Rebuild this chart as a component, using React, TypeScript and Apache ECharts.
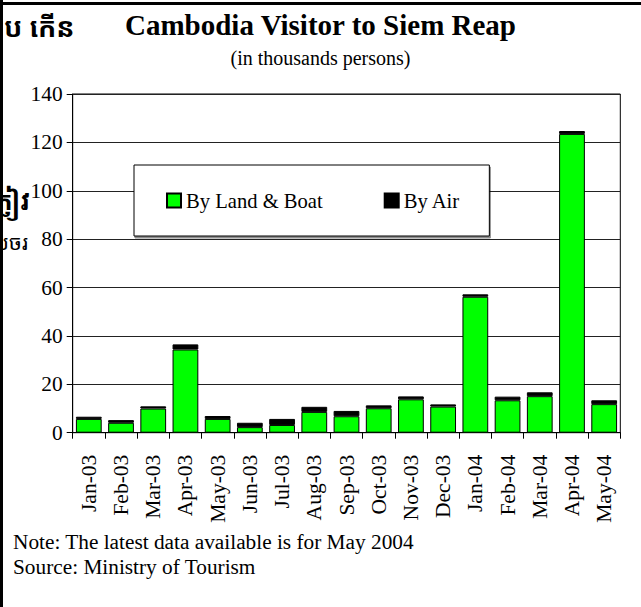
import React, { useEffect, useRef } from "react";
import * as echarts from "echarts";

const categories = [
  "Jan-03", "Feb-03", "Mar-03", "Apr-03", "May-03", "Jun-03", "Jul-03", "Aug-03",
  "Sep-03", "Oct-03", "Nov-03", "Dec-03", "Jan-04", "Feb-04", "Mar-04", "Apr-04", "May-04",
];
const landBoat = [5.7, 4.1, 10.0, 34.4, 5.7, 2.3, 3.2, 8.6, 6.8, 10.1, 13.8, 10.8, 56.2, 13.4, 15.1, 123.5, 11.8];
const byAir = [0.9, 1.1, 0.9, 2.1, 1.2, 1.8, 2.5, 2.1, 2.2, 1.2, 1.2, 0.9, 1.0, 1.5, 1.6, 1.2, 1.6];
const seriesNames = ["By Land & Boat", "By Air"];
const titleText = "Cambodia Visitor to Siem Reap";
const subtitleText = "(in thousands persons)";
const noteLines = ["Note: The latest data available is for May 2004", "Source: Ministry of Tourism"];
const khmerTop = "ប កើន";
const khmerLeft = ["ភ្ញៀវ", "ទេសចរ"];

const SERIF = "'Liberation Serif', 'Times New Roman', serif";
const KHMER = "'Noto Sans Khmer', 'Noto Serif Khmer', 'Khmer OS', 'DejaVu Sans', sans-serif";

export default function App() {
  const ref = useRef<HTMLDivElement>(null);
  useEffect(() => {
    if (!ref.current) return;
    const chart = echarts.init(ref.current, null, { renderer: "svg" });
    chart.setOption({
      animation: false,
      backgroundColor: "#fff",
      textStyle: { fontFamily: SERIF, color: "#000" },
      title: {
        text: titleText,
        subtext: subtitleText,
        left: "center",
        top: 5,
        itemGap: 9,
        textStyle: { fontFamily: SERIF, fontSize: 29, fontWeight: "bold", color: "#000" },
        subtextStyle: { fontFamily: SERIF, fontSize: 20, color: "#000" },
      },
      legend: {
        data: seriesNames,
        left: 134,
        top: 165,
        orient: "horizontal",
        icon: "rect",
        itemWidth: 14,
        itemHeight: 14,
        itemGap: 61,
        padding: [25, 29, 25, 32],
        backgroundColor: "#fff",
        borderColor: "#000",
        borderWidth: 1,
        shadowColor: "rgba(0,0,0,0.45)",
        shadowOffsetX: 1,
        shadowOffsetY: 2,
        shadowBlur: 0,
        textStyle: { fontFamily: SERIF, fontSize: 20.6, color: "#000" },
      },
      grid: {
        left: 72.7,
        right: 20.7,
        top: 94,
        bottom: 174.3,
        show: true,
        borderColor: "#000",
        borderWidth: 1,
        backgroundColor: "transparent",
      },
      xAxis: {
        type: "category",
        data: categories,
        axisLine: { lineStyle: { color: "#000", width: 1 } },
        axisTick: { show: true, length: 6, lineStyle: { color: "#000" } },
        axisLabel: {
          rotate: 90,
          margin: 22,
          fontFamily: SERIF,
          fontSize: 21.5,
          color: "#000",
          interval: 0,
        },
      },
      yAxis: {
        type: "value",
        min: 0,
        max: 140,
        interval: 20,
        axisLine: { show: true, lineStyle: { color: "#000", width: 1 } },
        axisTick: { show: true, length: 6, lineStyle: { color: "#000" } },
        axisLabel: { margin: 10, fontFamily: SERIF, fontSize: 21.4, color: "#000" },
        splitLine: { show: true, lineStyle: { color: "#222", width: 1 } },
      },
      series: [
        {
          name: seriesNames[0],
          type: "bar",
          stack: "total",
          data: landBoat,
          barCategoryGap: "20%",
          itemStyle: { color: "#00ff00", borderColor: "#000", borderWidth: 1 },
        },
        {
          name: seriesNames[1],
          type: "bar",
          stack: "total",
          data: byAir,
          barCategoryGap: "20%",
          itemStyle: { color: "#000", borderColor: "#000", borderWidth: 1 },
        },
      ],
      graphic: [
        { type: "rect", shape: { x: 0, y: 2, width: 641, height: 3 }, style: { fill: "#000" }, z: 100 },
        { type: "rect", shape: { x: 0, y: 0, width: 3, height: 607 }, style: { fill: "#000" }, z: 100 },
        {
          type: "text", left: 4, top: 13,
          style: { text: khmerTop, fontSize: 27, fontWeight: "bold", fill: "#000", fontFamily: KHMER },
        },
        {
          type: "text", x: 30, y: 200,
          style: { text: khmerLeft[0], align: "right", verticalAlign: "middle", fontSize: 25, fontWeight: "bold", fill: "#000", fontFamily: KHMER },
        },
        {
          type: "text", x: 28, y: 242,
          style: { text: khmerLeft[1], align: "right", verticalAlign: "middle", fontSize: 21, fill: "#000", fontFamily: KHMER },
        },
        {
          type: "text", x: 13, y: 542,
          style: { text: noteLines[0], verticalAlign: "middle", fontSize: 21.3, fill: "#000", fontFamily: SERIF },
        },
        {
          type: "text", x: 13, y: 567,
          style: { text: noteLines[1], verticalAlign: "middle", fontSize: 21.3, fill: "#000", fontFamily: SERIF },
        },
      ],
    });
    return () => chart.dispose();
  }, []);
  return (
    <div
      ref={ref}
      style={{ position: "fixed", left: 0, top: 0, width: 641, height: 607, background: "#fff" }}
    />
  );
}
